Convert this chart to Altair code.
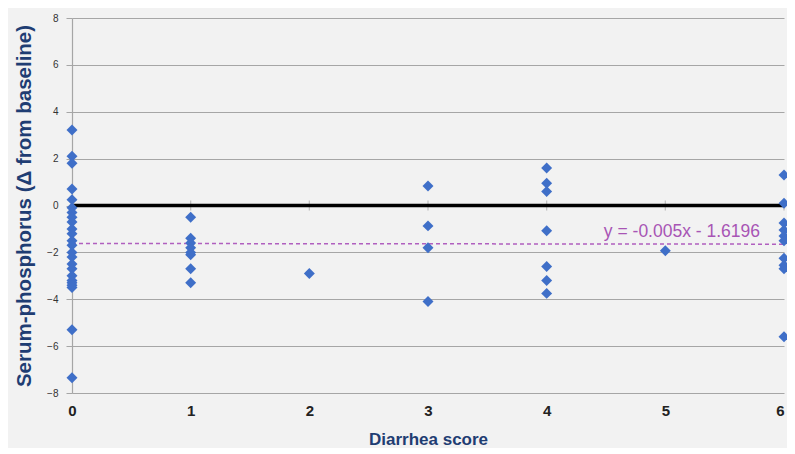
import altair as alt
import pandas as pd

# Data
x0 = [0]*24
y0 = [3.22, 2.1, 1.8, 0.7, 0.25, -0.1, -0.3, -0.5, -0.7, -1.0, -1.2, -1.5,
      -1.7, -2.0, -2.2, -2.5, -2.7, -3.0, -3.2, -3.3, -3.4, -3.5, -5.3, -7.35]
x1 = [1]*8
y1 = [-0.5, -1.4, -1.6, -1.8, -2.0, -2.1, -2.7, -3.3]
x2 = [2]
y2 = [-2.9]
x3 = [3]*4
y3 = [0.83, -0.87, -1.8, -4.1]
x4 = [4]*7
y4 = [1.6, 0.95, 0.6, -1.08, -2.6, -3.2, -3.75]
x5 = [5]
y5 = [-1.93]
x6 = [6]*10
y6 = [1.3, 0.1, -0.75, -1.05, -1.3, -1.5, -2.25, -2.55, -2.7, -5.6]

slope = -0.005
intercept = -1.6196
trend_label = "y = -0.005x - 1.6196"
x_ticks = [0, 1, 2, 3, 4, 5, 6]

df = pd.DataFrame({
    "x": x0 + x1 + x2 + x3 + x4 + x5 + x6,
    "y": y0 + y1 + y2 + y3 + y4 + y5 + y6,
})
trend = pd.DataFrame({"x": [0, 6], "y": [intercept, slope * 6 + intercept]})
zero = pd.DataFrame({"x": [0], "x2": [6], "y": [0]})
ticks = pd.DataFrame({"x": x_ticks, "y": [0]*len(x_ticks)})
lab = pd.DataFrame({"x": [5.14], "y": [-1.15], "t": [trend_label]})

title_color = "#1f3d73"
xs = alt.Scale(domain=[0, 6], nice=False, zero=False)
ys = alt.Scale(domain=[-8, 8], nice=False)

pts = alt.Chart(df).mark_point(shape="diamond", filled=True, size=120,
                               color="#3f6fc8", opacity=1).encode(
    x=alt.X("x:Q", scale=xs, axis=alt.Axis(
        values=x_ticks, format="d", title="Diarrhea score", grid=False, domain=False, ticks=False,
        labelFontSize=15, labelFontWeight="bold", labelColor="#222222",
        labelFont="Liberation Sans", labelPadding=10,
        labelAlign=alt.ExprRef(expr="datum.value == 6 ? 'right' : 'center'"),
        titleFontSize=17, titleFontWeight="bold", titleColor=title_color,
        titleFont="Liberation Sans", titlePadding=13, labelFlush=False)),
    y=alt.Y("y:Q", scale=ys, axis=alt.Axis(
        values=list(range(-8, 9, 2)), title="Serum-phosphorus (Δ from baseline)",
        grid=True, gridColor="#a6a6a6", gridWidth=1.2, domainColor="#a6a6a6",
        domainWidth=1.2, tickColor="#a6a6a6", tickSize=6,
        labelFontSize=10, labelColor="#333333", labelPadding=8,
        labelFont="Liberation Sans",
        titleFontSize=20.5, titleFontWeight="bold", titleColor=title_color,
        titleFont="Liberation Sans", titlePadding=12)),
)

zero_line = alt.Chart(zero).mark_rule(color="black", strokeWidth=3.5).encode(
    x=alt.X("x:Q", scale=xs), x2="x2:Q", y=alt.Y("y:Q", scale=ys))

zero_ticks = alt.Chart(ticks).mark_tick(color="#a6a6a6", thickness=1.2, size=10).encode(
    x=alt.X("x:Q", scale=xs), y=alt.Y("y:Q", scale=ys))

trend_line = alt.Chart(trend).mark_line(color="#b05fbf", strokeDash=[4, 3], strokeWidth=1.5).encode(
    x=alt.X("x:Q", scale=xs), y=alt.Y("y:Q", scale=ys))

trend_text = alt.Chart(lab).mark_text(color="#a855b5", fontSize=17.5, align="center",
                                      font="Liberation Sans").encode(
    x=alt.X("x:Q", scale=xs), y=alt.Y("y:Q", scale=ys), text="t:N")

chart = alt.layer(zero_ticks, zero_line, trend_line, trend_text, pts).properties(
    width=712, height=375,
    padding={"left": 64, "top": 10, "right": 3, "bottom": 55},
    autosize=alt.AutoSizeParams(type="none"),
    background="#f2f2f2",
).configure_view(stroke=None)

chart.save("out.html", embed_options={"renderer": "svg", "actions": False})
